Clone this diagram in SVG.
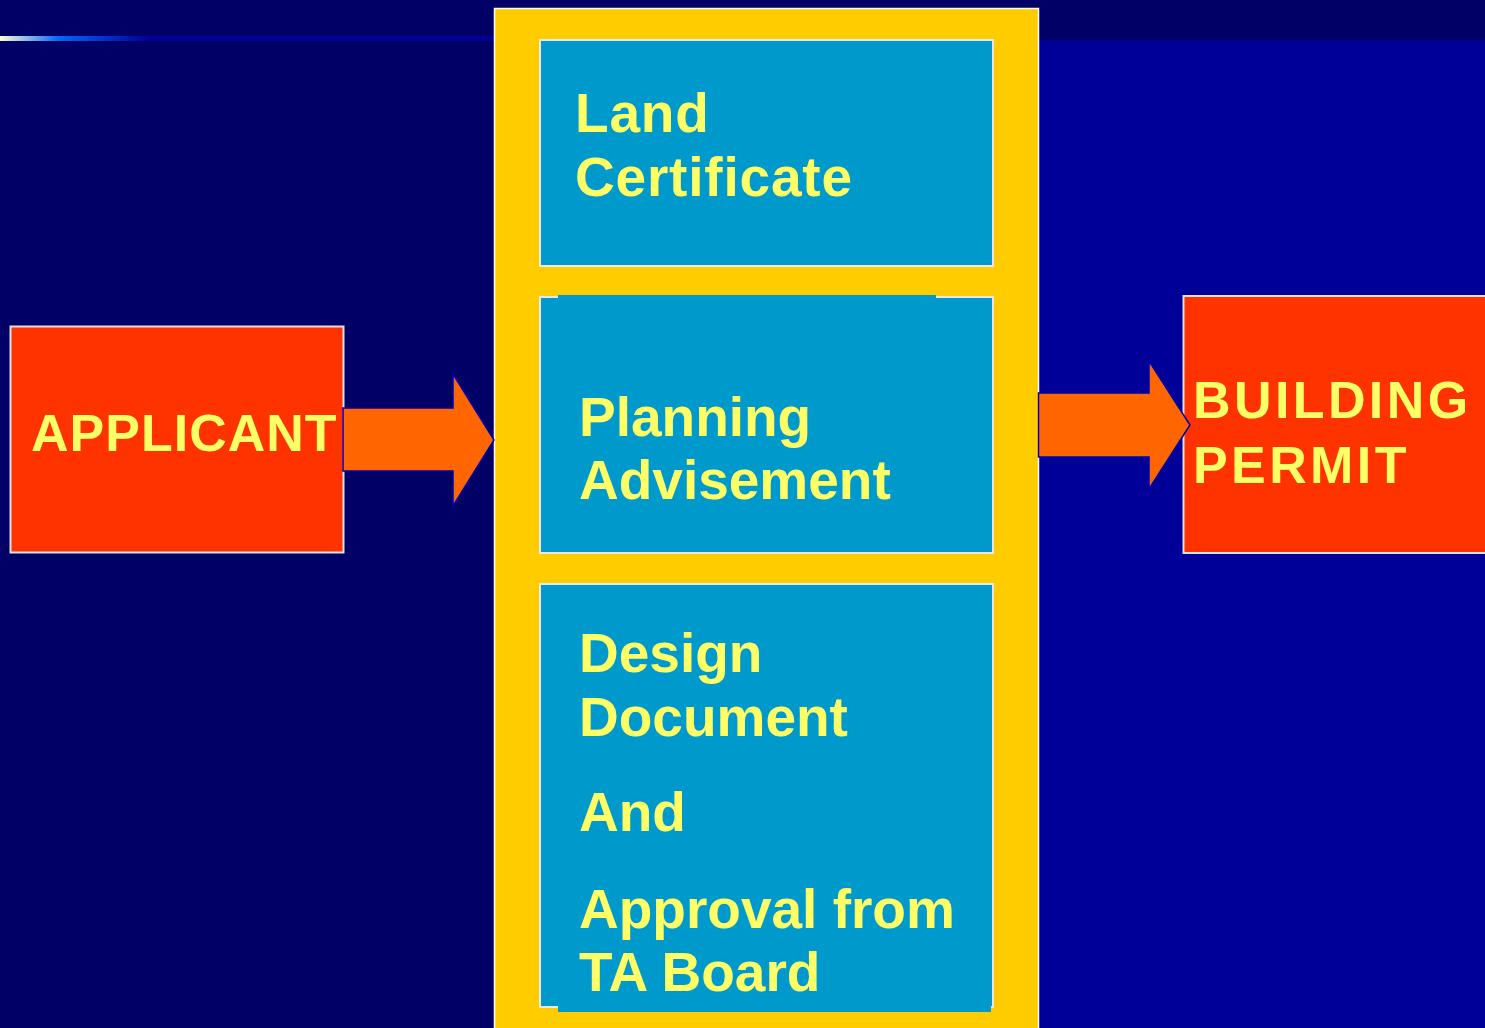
<svg xmlns="http://www.w3.org/2000/svg" width="1485" height="1028" viewBox="0 0 1485 1028">
  <defs>
    <linearGradient id="topline" x1="0" y1="0" x2="494" y2="0" gradientUnits="userSpaceOnUse">
      <stop offset="0" stop-color="#FFFFCC"/>
      <stop offset="0.12" stop-color="#0066FF"/>
      <stop offset="0.3" stop-color="#000099"/>
      <stop offset="1" stop-color="#000099"/>
    </linearGradient>
    <style>
      .lbl { font-family: "Liberation Sans", Arial, sans-serif; font-weight: bold; fill: #FFFF66; }
      .blue { fill: #0099CC; stroke: #E8E8E8; stroke-width: 2; }
      .red { fill: #FF3300; stroke: #E0E0E0; stroke-width: 2; }
      .arrow { fill: #FF6600; stroke: #0000AA; stroke-width: 1.5; stroke-linejoin: miter; }
    </style>
  </defs>
  <!-- background -->
  <rect x="0" y="0" width="1485" height="1028" fill="#000066"/>
  <rect x="1000" y="40" width="485" height="988" fill="#000099"/>
  <rect x="0" y="36" width="494" height="5" fill="url(#topline)"/>

  <!-- central column -->
  <g id="column">
    <rect x="494.5" y="8.5" width="544" height="1030" fill="#FFCC00" stroke="#FFFFFF" stroke-width="1.5"/>
  </g>

  <g id="land-certificate">
    <rect class="blue" x="540" y="40" width="453" height="226"/>
    <text class="lbl" font-size="55" letter-spacing="0.8"><tspan x="575" y="132">Land</tspan><tspan x="575" y="196">Certificate</tspan></text>
  </g>

  <g id="planning-advisement">
    <rect class="blue" x="540" y="297" width="453" height="256"/>
    <rect x="558" y="295" width="378" height="4" fill="#0099CC"/>
    <text class="lbl" font-size="55"><tspan x="579" y="436">Planning</tspan><tspan x="579" y="499">Advisement</tspan></text>
  </g>

  <g id="design-document">
    <rect class="blue" x="540" y="584" width="453" height="423"/>
    <rect x="558" y="990" width="433" height="22" fill="#0099CC"/>
    <text class="lbl" font-size="55"><tspan x="579" y="672">Design</tspan><tspan x="579" y="736">Document</tspan><tspan x="579" y="831">And</tspan><tspan x="579" y="928">Approval from</tspan><tspan x="579" y="991">TA Board</tspan></text>
  </g>

  <g id="applicant">
    <rect class="red" x="10.5" y="326.5" width="333" height="226"/>
    <text class="lbl" font-size="52" letter-spacing="1" x="31" y="451">APPLICANT</text>
  </g>

  <g id="building-permit">
    <rect class="red" x="1183.5" y="296" width="320" height="257"/>
    <text class="lbl" font-size="52" letter-spacing="3.4"><tspan x="1193" y="418">BUILDING</tspan><tspan x="1193" y="483">PERMIT</tspan></text>
  </g>

  <g id="connectors">
    <polygon class="arrow" points="343,408 453,408 453,374 494,440 453,506 453,471 343,471"/>
    <polygon class="arrow" points="1038.5,393 1149,393 1149,361 1190,425 1149,489 1149,457 1038.5,457"/>
  </g>
</svg>
